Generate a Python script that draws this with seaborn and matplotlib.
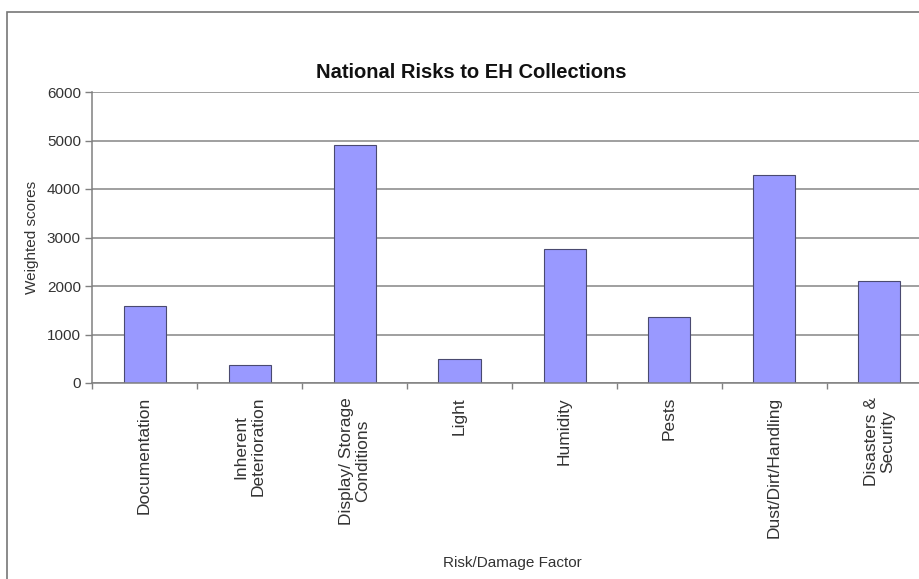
import numpy as np
import pandas as pd
import matplotlib
matplotlib.use('Agg')
import matplotlib.pyplot as plt
import seaborn as sns
from matplotlib.patches import Rectangle

# 資料 (從圖上讀取的估計值)
factors = ['Documentation', 'Inherent\nDeterioration', 'Display/ Storage\nConditions', 'Light',
           'Humidity', 'Pests', 'Dust/Dirt/Handling', 'Disasters &\nSecurity']
scores = [1580, 370, 4900, 500, 2760, 1360, 4290, 2110]
y_ticks = [0, 1000, 2000, 3000, 4000, 5000, 6000]

df = pd.DataFrame({'factor': factors, 'score': scores})

sns.set_style('white')
plt.rcParams['font.family'] = ['Liberation Sans', 'DejaVu Sans']

fig = plt.figure(figsize=(9.19, 5.79), dpi=100)
ax = fig.add_axes([92 / 919, 1 - 383 / 579, 840 / 919, 291 / 579])

# 外框 (右邊與下邊被裁掉)
fig.patches.append(Rectangle((7 / 919, -0.05), 1, 1.05 - 12 / 579, transform=fig.transFigure,
                             fill=False, edgecolor='#777777', linewidth=1.2))

sns.barplot(data=df, x='factor', y='score', color='#9999ff', width=0.4,
            edgecolor='#4a4a70', linewidth=0.8, saturation=1, ax=ax)

ax.set_xlim(-0.5, 7.5)
ax.set_ylim(0, 6000)
ax.set_yticks(y_ticks)
ax.set_yticklabels([str(v) for v in y_ticks], fontsize=11, color='#333333')
ax.yaxis.grid(True, color='#858585', linewidth=1.1)
ax.set_axisbelow(True)

for s in ['top', 'right']:
    ax.spines[s].set_visible(False)
for s in ['left', 'bottom']:
    ax.spines[s].set_color('#808080')
    ax.spines[s].set_linewidth(1.1)

ax.tick_params(axis='y', left=True, length=5, width=1, color='#808080', pad=3)
ax.set_xticks(range(len(factors)))
ax.set_xticklabels(factors, rotation=90, fontsize=12.5, ha='center', va='top',
                   multialignment='center', linespacing=1.15, color='#333333')
ax.tick_params(axis='x', which='major', length=0, pad=10)
ax.set_xticks(np.arange(-0.5, len(factors)), minor=True)
ax.tick_params(axis='x', which='minor', bottom=True, length=4, width=1, color='#808080')

ax.set_xlabel('Risk/Damage Factor', fontsize=11, color='#333333')
ax.xaxis.set_label_coords((512 - 92) / 840, (383 - 556) / 291)
ax.set_ylabel('Weighted scores', fontsize=11, color='#333333')
ax.yaxis.set_label_coords((39 - 92) / 840, 0.5)

fig.text(471 / 919, 1 - 72 / 579, 'National Risks to EH Collections', fontsize=14.5,
         fontweight='bold', ha='center', va='center', color='#111111')

plt.savefig('out.png', dpi=100)
